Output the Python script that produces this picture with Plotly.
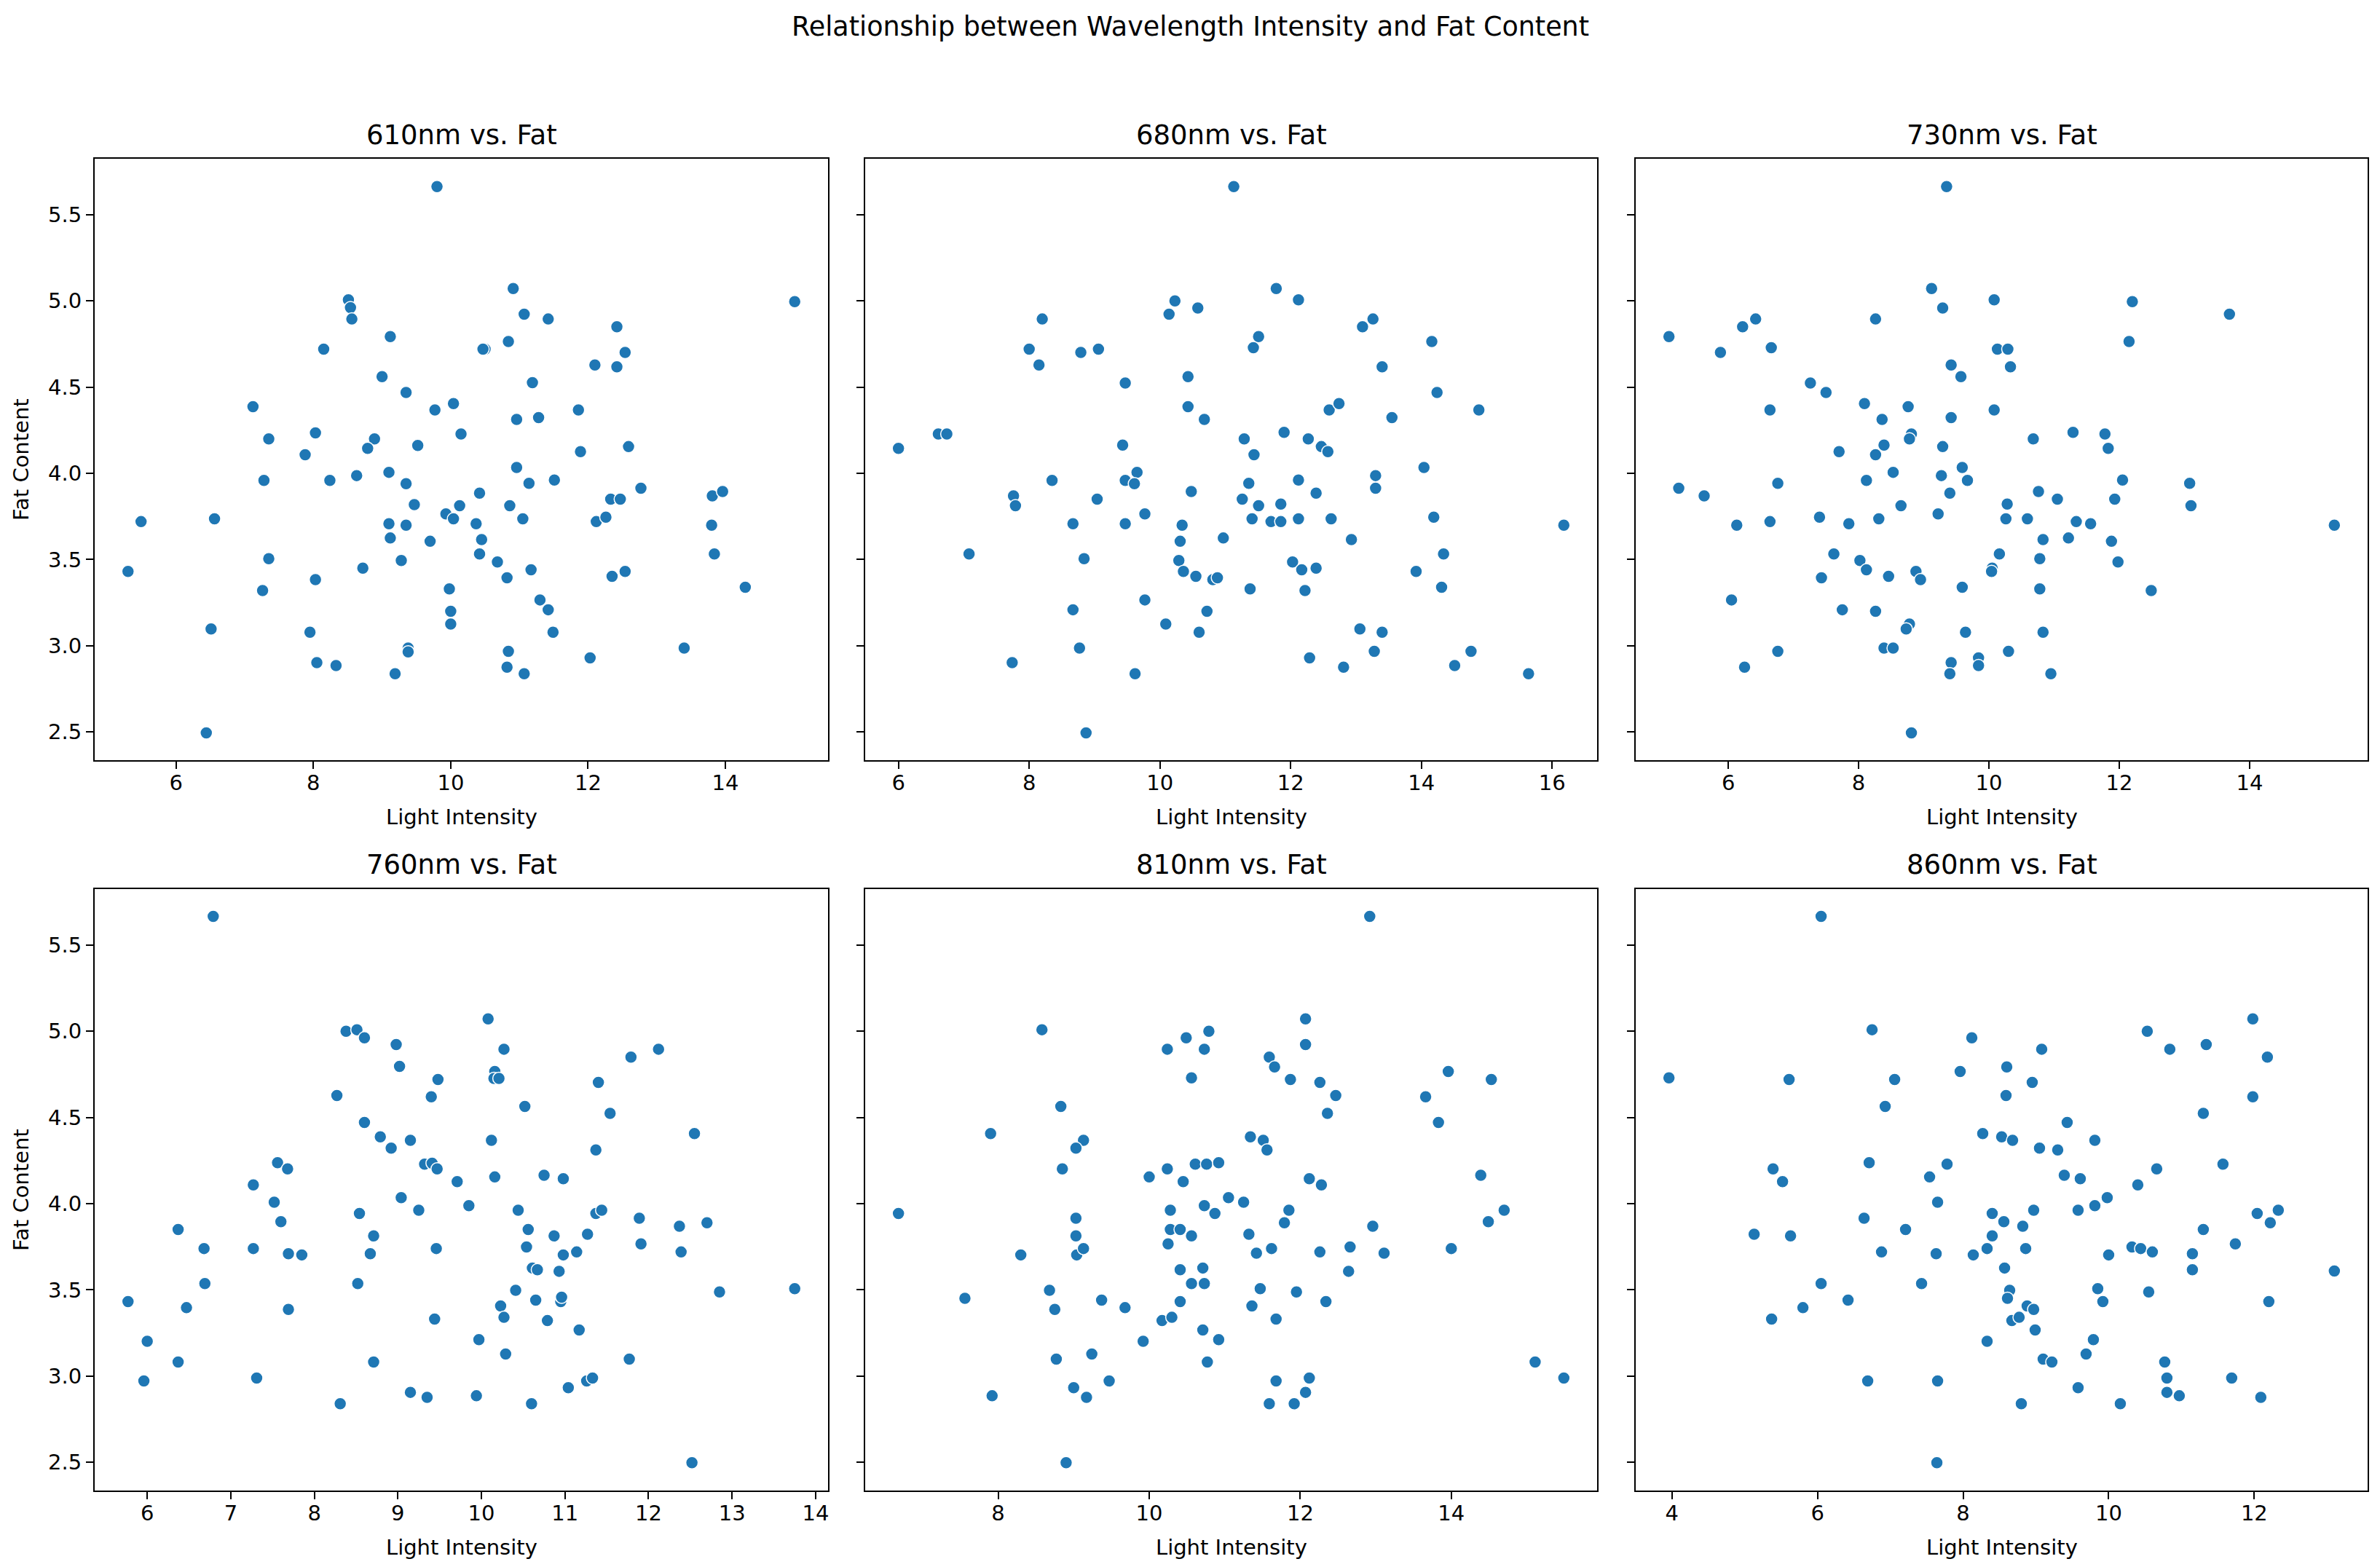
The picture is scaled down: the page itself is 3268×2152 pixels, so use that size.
import plotly.graph_objects as go

# (light intensity, fat content) pairs
pts_610 = [
    (9.80, 5.663), (8.51, 5.006), (8.54, 4.961), (8.56, 4.895), (9.12, 4.793), (8.15, 4.720), (9.00, 4.561),
    (9.35, 4.469), (9.77, 4.368), (10.04, 4.405), (7.12, 4.387), (8.03, 4.235), (7.35, 4.200), (8.89, 4.200),
    (8.79, 4.145), (9.52, 4.162), (10.15, 4.228), (7.88, 4.108), (7.28, 3.959), (8.24, 3.959), (8.63, 3.987),
    (9.10, 4.006), (9.35, 3.940), (9.47, 3.819), (10.13, 3.812), (9.93, 3.765), (10.04, 3.736), (6.56, 3.736),
    (5.49, 3.720), (9.10, 3.708), (9.35, 3.699), (9.12, 3.625), (9.70, 3.606), (7.35, 3.505), (9.28, 3.495),
    (8.72, 3.450), (5.30, 3.431), (8.03, 3.384), (7.26, 3.320), (9.98, 3.330), (10.00, 3.200), (10.00, 3.126),
    (6.51, 3.098), (7.95, 3.079), (9.38, 2.987), (9.38, 2.965), (8.05, 2.902), (8.33, 2.885), (9.19, 2.838),
    (6.44, 2.495), (10.50, 4.720),
    (10.91, 5.072), (11.07, 4.923), (11.42, 4.895), (12.42, 4.850), (15.01, 4.996), (10.84, 4.765), (10.47, 4.720),
    (12.54, 4.701), (12.10, 4.628), (12.42, 4.618), (11.19, 4.526), (11.86, 4.368), (10.96, 4.313), (11.28, 4.323),
    (12.59, 4.155), (11.89, 4.126), (10.96, 4.034), (11.14, 3.942), (11.51, 3.961), (12.77, 3.914), (10.42, 3.885),
    (13.81, 3.869), (13.96, 3.895), (10.86, 3.812), (12.33, 3.850), (12.47, 3.850), (10.37, 3.708), (11.05, 3.736),
    (12.12, 3.720), (12.26, 3.746), (13.80, 3.699), (10.45, 3.616), (10.42, 3.533), (10.68, 3.486), (10.82, 3.394),
    (11.17, 3.441), (12.35, 3.403), (12.54, 3.431), (13.84, 3.533), (14.29, 3.339), (11.30, 3.266), (11.42, 3.209),
    (11.49, 3.079), (10.84, 2.968), (10.82, 2.876), (11.07, 2.838), (12.03, 2.930), (13.40, 2.987),
]

pts_680 = [
    (11.13, 5.663), (10.23, 5.000), (10.14, 4.923), (10.58, 4.959), (8.20, 4.895), (8.00, 4.720), (8.79, 4.701),
    (9.06, 4.720), (8.15, 4.628), (9.47, 4.524), (10.43, 4.561), (10.43, 4.387), (10.68, 4.313), (6.00, 4.145),
    (6.61, 4.228), (6.74, 4.228), (9.43, 4.164), (8.35, 3.959), (9.65, 4.006), (9.47, 3.959), (9.61, 3.940),
    (10.48, 3.895), (7.76, 3.869), (7.79, 3.812), (9.04, 3.850), (8.67, 3.708), (9.47, 3.708), (9.77, 3.765),
    (10.34, 3.699), (10.31, 3.606), (10.97, 3.625), (7.08, 3.533), (8.84, 3.505), (10.29, 3.495), (10.36, 3.431),
    (10.55, 3.403), (10.81, 3.384), (10.88, 3.394), (9.77, 3.266), (8.67, 3.209), (10.72, 3.200), (10.09, 3.126),
    (10.60, 3.079), (8.77, 2.987), (7.74, 2.902), (9.62, 2.838), (8.87, 2.495),
    (11.78, 5.072), (12.12, 5.006), (11.51, 4.793), (11.43, 4.729), (13.10, 4.850), (13.26, 4.895), (14.16, 4.765),
    (13.40, 4.618), (14.24, 4.469), (14.88, 4.368), (12.59, 4.368), (12.74, 4.405), (13.55, 4.323), (11.29, 4.200),
    (11.90, 4.238), (12.27, 4.200), (12.47, 4.155), (12.57, 4.126), (11.44, 4.108), (14.04, 4.034), (13.30, 3.987),
    (13.30, 3.914), (11.36, 3.942), (12.12, 3.961), (12.39, 3.885), (11.26, 3.850), (11.51, 3.812), (11.85, 3.822),
    (11.41, 3.736), (11.70, 3.720), (11.85, 3.720), (12.12, 3.736), (12.62, 3.736), (14.19, 3.746), (16.18, 3.699),
    (12.93, 3.616), (14.34, 3.533), (12.03, 3.486), (12.17, 3.441), (12.39, 3.450), (13.92, 3.431), (11.38, 3.330),
    (12.22, 3.320), (14.31, 3.339), (13.06, 3.098), (13.40, 3.079), (13.28, 2.968), (14.76, 2.968), (12.29, 2.930),
    (12.81, 2.876), (14.51, 2.885), (15.64, 2.838),
]

pts_730 = [
    (9.35, 5.663), (9.12, 5.072), (9.29, 4.959), (10.08, 5.006), (5.09, 4.793), (5.88, 4.701), (6.22, 4.850),
    (6.42, 4.895), (6.66, 4.729), (8.26, 4.895), (10.13, 4.720), (10.29, 4.720), (9.42, 4.628), (9.57, 4.561),
    (10.33, 4.618), (7.26, 4.524), (7.50, 4.469), (6.64, 4.368), (8.09, 4.405), (8.76, 4.387), (8.36, 4.313),
    (9.42, 4.323), (10.08, 4.368), (8.81, 4.228), (8.78, 4.200), (8.39, 4.164), (8.26, 4.108), (9.29, 4.155),
    (7.70, 4.126), (8.53, 4.006), (8.12, 3.959), (9.59, 4.034), (9.67, 3.959), (9.27, 3.987), (9.40, 3.885),
    (5.24, 3.914), (5.63, 3.869), (6.76, 3.942), (8.65, 3.812), (10.28, 3.822), (10.26, 3.736), (9.22, 3.765),
    (6.13, 3.699), (6.64, 3.720), (7.40, 3.746), (7.85, 3.708), (8.31, 3.736), (7.62, 3.533), (8.02, 3.495),
    (8.12, 3.441), (8.46, 3.403), (8.88, 3.431), (8.95, 3.384), (10.16, 3.533), (10.05, 3.450), (10.04, 3.431),
    (7.43, 3.394), (9.59, 3.339), (6.05, 3.266), (7.75, 3.209), (8.26, 3.200), (8.78, 3.126), (8.73, 3.098),
    (9.64, 3.079), (6.76, 2.968), (8.39, 2.987), (8.53, 2.987), (10.30, 2.968), (6.25, 2.876), (9.42, 2.902),
    (9.40, 2.838), (9.84, 2.930), (9.84, 2.885), (8.81, 2.495),
    (12.20, 4.996), (13.69, 4.923), (12.15, 4.765), (10.68, 4.200), (11.29, 4.238), (11.78, 4.228), (11.83, 4.145),
    (12.05, 3.961), (10.76, 3.895), (11.05, 3.850), (11.93, 3.850), (13.08, 3.942), (13.10, 3.812), (10.59, 3.736),
    (11.34, 3.720), (11.56, 3.708), (15.30, 3.699), (10.83, 3.616), (11.22, 3.625), (11.88, 3.606), (10.78, 3.505),
    (11.98, 3.486), (10.78, 3.330), (12.49, 3.320), (10.83, 3.079), (10.95, 2.838),
]

pts_760 = [
    (6.79, 5.666), (8.38, 5.000), (8.51, 5.009), (8.60, 4.962), (8.98, 4.923), (9.02, 4.796), (9.48, 4.720),
    (8.27, 4.627), (9.40, 4.620), (8.60, 4.471), (8.79, 4.388), (8.92, 4.322), (9.15, 4.368), (7.56, 4.238),
    (7.68, 4.202), (9.32, 4.229), (9.41, 4.235), (9.47, 4.202), (9.71, 4.128), (7.27, 4.109), (7.52, 4.009),
    (9.04, 4.035), (9.25, 3.962), (8.54, 3.943), (7.60, 3.896), (6.37, 3.850), (6.68, 3.740), (7.27, 3.740),
    (7.69, 3.710), (7.85, 3.703), (8.71, 3.813), (8.67, 3.710), (9.46, 3.740), (6.69, 3.537), (8.52, 3.537),
    (5.77, 3.432), (6.47, 3.397), (7.69, 3.387), (9.44, 3.331), (6.00, 3.202), (6.37, 3.082), (8.71, 3.082),
    (5.96, 2.972), (7.31, 2.989), (9.15, 2.906), (9.35, 2.877), (8.31, 2.840),
    (10.08, 5.072), (10.27, 4.896), (10.16, 4.767), (10.15, 4.727), (10.21, 4.727), (10.52, 4.564), (11.40, 4.703),
    (11.54, 4.524), (11.79, 4.850), (12.12, 4.896), (12.55, 4.407), (10.12, 4.368), (11.37, 4.312), (10.16, 4.155),
    (10.75, 4.165), (10.98, 4.145), (9.85, 3.989), (10.44, 3.962), (11.37, 3.943), (11.44, 3.962), (11.89, 3.916),
    (12.37, 3.869), (12.70, 3.889), (10.56, 3.850), (10.87, 3.813), (11.27, 3.823), (10.54, 3.749), (11.91, 3.767),
    (12.39, 3.720), (10.98, 3.703), (11.14, 3.720), (10.61, 3.627), (10.67, 3.617), (10.93, 3.608), (10.41, 3.498),
    (10.65, 3.441), (10.95, 3.432), (10.96, 3.458), (12.85, 3.488), (13.75, 3.507), (10.23, 3.407), (10.27, 3.341),
    (10.79, 3.322), (11.17, 3.268), (9.97, 3.212), (10.29, 3.128), (11.77, 3.099), (11.26, 2.972), (11.33, 2.989),
    (11.04, 2.933), (9.94, 2.886), (10.60, 2.840), (12.52, 2.498),
]

pts_810 = [
    (8.58, 5.009), (10.24, 4.896), (10.49, 4.962), (10.79, 5.000), (10.73, 4.896), (10.56, 4.730), (8.83, 4.564),
    (7.90, 4.407), (9.13, 4.368), (9.03, 4.322), (8.85, 4.202), (10.00, 4.155), (10.24, 4.202), (10.45, 4.128),
    (10.61, 4.229), (10.76, 4.229), (10.92, 4.238), (11.05, 4.035), (6.68, 3.943), (10.28, 3.962), (10.73, 3.989),
    (10.87, 3.943), (9.03, 3.916), (9.03, 3.813), (10.28, 3.850), (10.41, 3.850), (10.56, 3.813), (10.25, 3.767),
    (8.30, 3.703), (9.04, 3.703), (9.13, 3.740), (10.41, 3.617), (10.71, 3.627), (10.56, 3.537), (10.73, 3.537),
    (8.68, 3.498), (7.56, 3.451), (8.75, 3.387), (9.37, 3.441), (9.68, 3.397), (10.41, 3.432), (10.17, 3.322),
    (10.30, 3.341), (10.71, 3.268), (10.92, 3.212), (9.92, 3.202), (8.77, 3.099), (9.24, 3.128), (10.77, 3.082),
    (9.47, 2.972), (9.00, 2.933), (9.17, 2.877), (7.92, 2.886), (8.90, 2.498),
    (12.92, 5.666), (12.07, 5.072), (12.07, 4.923), (11.59, 4.850), (11.66, 4.793), (11.87, 4.720), (12.26, 4.703),
    (12.47, 4.627), (12.36, 4.524), (13.96, 4.767), (14.53, 4.720), (13.66, 4.620), (13.83, 4.471), (11.34, 4.388),
    (11.51, 4.368), (11.56, 4.312), (12.12, 4.145), (12.28, 4.109), (14.39, 4.165), (11.25, 4.009), (11.85, 3.962),
    (11.79, 3.889), (14.70, 3.962), (14.49, 3.896), (12.96, 3.869), (11.32, 3.823), (11.62, 3.740), (11.42, 3.713),
    (12.26, 3.720), (12.66, 3.749), (13.11, 3.713), (14.00, 3.740), (12.64, 3.608), (11.47, 3.507), (11.95, 3.488),
    (12.34, 3.432), (11.36, 3.407), (11.68, 3.331), (15.11, 3.082), (15.49, 2.989), (11.68, 2.972), (12.12, 2.989),
    (12.07, 2.906), (11.59, 2.840), (11.92, 2.840),
]

pts_860 = [
    (6.05, 5.666), (6.75, 5.009), (8.12, 4.962), (3.96, 4.730), (5.61, 4.720), (7.06, 4.720), (7.96, 4.767),
    (6.93, 4.564), (8.60, 4.793), (8.59, 4.627), (8.27, 4.407), (8.53, 4.388), (6.71, 4.238), (7.78, 4.229),
    (5.39, 4.202), (5.52, 4.128), (7.54, 4.155), (7.65, 4.009), (8.40, 3.943), (8.56, 3.896), (6.64, 3.916),
    (5.13, 3.823), (5.63, 3.813), (7.21, 3.850), (8.40, 3.813), (6.88, 3.720), (7.63, 3.710), (8.33, 3.740),
    (8.14, 3.703), (8.57, 3.627), (6.05, 3.537), (7.43, 3.537), (6.42, 3.441), (5.80, 3.397), (5.37, 3.331),
    (8.64, 3.498), (8.61, 3.451), (8.33, 3.202), (6.69, 2.972), (7.65, 2.972), (7.64, 2.498),
    (10.53, 5.000), (10.84, 4.896), (11.34, 4.923), (11.98, 5.072), (12.18, 4.850), (9.08, 4.896), (8.95, 4.703),
    (11.98, 4.620), (11.30, 4.524), (9.43, 4.471), (8.68, 4.368), (9.81, 4.368), (9.05, 4.322), (9.30, 4.312),
    (10.66, 4.202), (11.57, 4.229), (9.39, 4.165), (9.61, 4.145), (10.40, 4.109), (9.98, 4.035), (8.97, 3.962),
    (9.58, 3.962), (9.81, 3.989), (8.82, 3.869), (12.04, 3.943), (12.33, 3.962), (12.22, 3.889), (11.30, 3.850),
    (11.74, 3.767), (8.86, 3.740), (10.00, 3.703), (10.32, 3.749), (10.44, 3.740), (10.60, 3.720), (11.15, 3.710),
    (11.15, 3.617), (13.10, 3.610), (9.85, 3.507), (9.92, 3.432), (10.55, 3.488), (12.20, 3.432), (8.88, 3.407),
    (8.97, 3.387), (8.67, 3.322), (8.77, 3.341), (8.99, 3.268), (9.79, 3.212), (9.69, 3.128), (9.10, 3.099),
    (9.22, 3.082), (10.77, 3.082), (10.80, 2.989), (10.80, 2.906), (10.97, 2.886), (11.69, 2.989), (12.09, 2.877),
    (9.58, 2.933), (8.80, 2.840), (10.16, 2.840),
]

wavelengths = ['610nm', '680nm', '730nm', '760nm', '810nm', '860nm']
panels = [pts_610, pts_680, pts_730, pts_760, pts_810, pts_860]
x_dtick = [2, 2, 2, 1, 2, 2]

W, H = 3268, 2152
col_px = [(130, 1137), (1188, 2193), (2246, 3251)]
row_px = [(218, 1044), (1221, 2047)]
FONT = 'DejaVu Sans'


def pad_range(vals, frac=0.05):
    lo, hi = min(vals), max(vals)
    p = (hi - lo) * frac
    return [lo - p, hi + p]


all_fat = [y for pts in panels for _, y in pts]
y_range = pad_range(all_fat)

axis_style = dict(
    showline=True, mirror=True, linecolor='black', linewidth=2,
    ticks='outside', ticklen=10, tickwidth=2, tickcolor='black',
    showgrid=False, zeroline=False,
    tickfont=dict(family=FONT, size=29, color='black'),
)

fig = go.Figure()
annotations = []

for i, (name, pts) in enumerate(zip(wavelengths, panels)):
    r, c = divmod(i, 3)
    xs, ys = zip(*pts)
    sfx = '' if i == 0 else str(i + 1)
    fig.add_trace(go.Scatter(
        x=xs, y=ys, mode='markers', xaxis='x' + sfx, yaxis='y' + sfx,
        marker=dict(size=17, color='#1f77b4', line=dict(color='white', width=1.5)),
        showlegend=False,
    ))
    x0, x1 = col_px[c]
    top, bot = row_px[r]
    fig.update_layout({
        'xaxis' + sfx: dict(axis_style, domain=[x0 / W, x1 / W], range=pad_range(xs),
                            dtick=x_dtick[i], anchor='y' + sfx, ticklabelstandoff=-6),
        'yaxis' + sfx: dict(axis_style, domain=[1 - bot / H, 1 - top / H], range=y_range,
                            dtick=0.5, tickformat='.1f', anchor='x' + sfx,
                            showticklabels=(c == 0)),
    })
    cx = (x0 + x1) / 2 / W
    annotations.append(dict(text=f'{name} vs. Fat', x=cx, y=1 - (top - 33) / H,
                            font=dict(size=37)))
    annotations.append(dict(text='Light Intensity', x=cx, y=1 - (bot + 78) / H,
                            font=dict(size=29)))
    if c == 0:
        annotations.append(dict(text='Fat Content', x=29 / W, y=1 - (top + bot) / 2 / H,
                                textangle=-90, font=dict(size=29)))

annotations.append(dict(text='Relationship between Wavelength Intensity and Fat Content',
                        x=0.5, y=1 - 37 / H, font=dict(size=36.5)))

for a in annotations:
    a.update(xref='paper', yref='paper', showarrow=False, xanchor='center', yanchor='middle')
    a['font'].update(family=FONT, color='black')

fig.update_layout(
    width=W, height=H,
    margin=dict(l=0, r=0, t=0, b=0),
    plot_bgcolor='white', paper_bgcolor='white',
    annotations=annotations,
    showlegend=False,
)

fig.write_html("out.html", config={'displayModeBar': False},
               post_script="document.body.style.margin='0';")
